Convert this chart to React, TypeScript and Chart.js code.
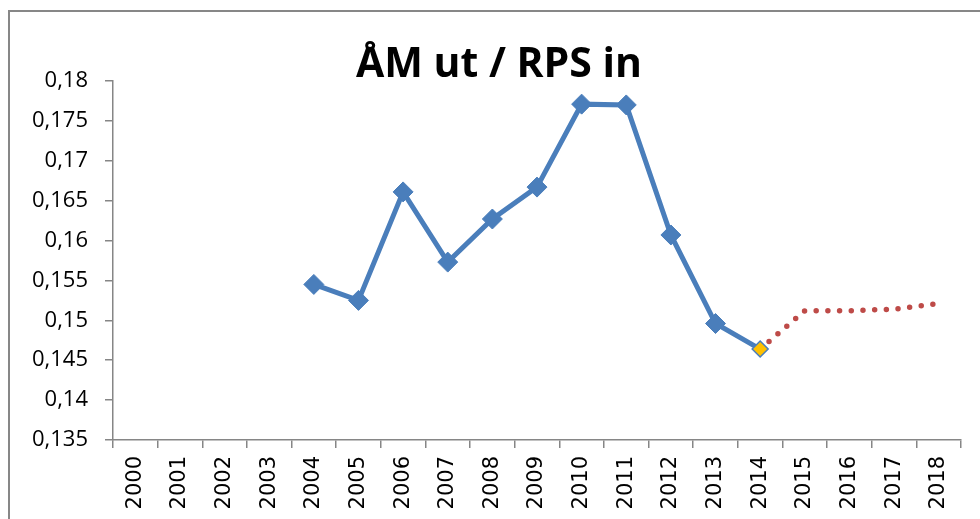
import React, { useEffect, useRef } from "react";
import { Chart, registerables } from "chart.js";

Chart.register(...registerables);

const TITLE = "ÅM ut / RPS in";
const YEARS = [
  "2000", "2001", "2002", "2003", "2004", "2005", "2006", "2007", "2008", "2009",
  "2010", "2011", "2012", "2013", "2014", "2015", "2016", "2017", "2018",
];
const ACTUAL = [
  null, null, null, null, 0.1545, 0.1525, 0.1661, 0.1573, 0.1627, 0.1667,
  0.1771, 0.1770, 0.1607, 0.1496, 0.1464, null, null, null, null,
];
const FORECAST = [
  null, null, null, null, null, null, null, null, null, null,
  null, null, null, null, 0.1464, 0.1512, 0.1512, 0.1514, 0.1521,
];
const Y_MIN = 0.135;
const Y_MAX = 0.18;
const Y_STEP = 0.005;

const BLUE = "#4A7EBB";
const RED = "#BE4B48";
const AXIS = "#868686";

const titlePlugin = {
  id: "customTitle",
  afterDraw(chart: any) {
    const ctx = chart.ctx;
    ctx.save();
    ctx.font = "bold 41px 'Open Sans'";
    ctx.fillStyle = "#000";
    ctx.textAlign = "center";
    ctx.textBaseline = "alphabetic";
    ctx.fillText(TITLE, 499, 77);
    ctx.restore();
  },
};

export default function App() {
  const ref = useRef<HTMLCanvasElement>(null);

  useEffect(() => {
    if (!ref.current) return;
    const lastActual = ACTUAL.reduce((acc: number, v, i) => (v !== null ? i : acc), -1);
    const chart = new Chart(ref.current, {
      type: "line",
      data: {
        labels: YEARS,
        datasets: [
          {
            label: "ÅM ut / RPS in",
            data: ACTUAL as any,
            borderColor: BLUE,
            borderWidth: 5,
            backgroundColor: ACTUAL.map((_, i) => (i === lastActual ? "#FFC000" : BLUE)),
            pointBorderColor: BLUE,
            pointBorderWidth: ACTUAL.map((_, i) => (i === lastActual ? 1.5 : 1)),
            pointStyle: "rectRot",
            pointRadius: ACTUAL.map((_, i) => (i === lastActual ? 8 : 10)),
            tension: 0,
          },
          {
            label: "Prognos",
            data: FORECAST as any,
            borderColor: RED,
            borderWidth: 5.5,
            borderDash: [0, 11.7],
            borderCapStyle: "round",
            pointRadius: 0,
            tension: 0,
          },
        ],
      },
      options: {
        animation: false,
        responsive: false,
        layout: { padding: { top: 81, right: 19, bottom: 0, left: 0 } },
        plugins: {
          legend: { display: false },
          title: { display: false },
          tooltip: { enabled: false },
        },
        scales: {
          x: {
            offset: true,
            grid: {
              offset: true,
              drawOnChartArea: false,
              drawTicks: true,
              tickLength: 8,
              color: AXIS,
              lineWidth: 1.5,
            },
            border: { display: true, color: AXIS, width: 1.5 },
            ticks: {
              minRotation: 90,
              maxRotation: 90,
              autoSkip: false,
              padding: 8,
              color: "#000",
              font: { family: "'DejaVu Sans'", size: 21 },
            },
            afterFit(scale: any) {
              scale.height = 79;
            },
          },
          y: {
            min: Y_MIN,
            max: Y_MAX,
            grid: {
              drawOnChartArea: false,
              drawTicks: true,
              tickLength: 8,
              color: AXIS,
              lineWidth: 1.5,
            },
            border: { display: true, color: AXIS, width: 1.5 },
            ticks: {
              stepSize: Y_STEP,
              padding: 17,
              color: "#000",
              font: { family: "'Open Sans'", size: 22 },
              callback: (v: any) => String(Number(Number(v).toFixed(3))).replace(".", ","),
            },
            afterFit(scale: any) {
              scale.width = 113;
            },
          },
        },
      },
      plugins: [titlePlugin],
    });
    return () => chart.destroy();
  }, []);

  return (
    <div>
      <div
        style={{
          position: "fixed",
          left: 8,
          top: 10,
          right: 0,
          bottom: 0,
          borderLeft: "2px solid #878787",
          borderTop: "2px solid #878787",
        }}
      />
      <canvas
        ref={ref}
        width={980}
        height={519}
        style={{ position: "fixed", left: 0, top: 0, width: 980, height: 519 }}
      />
    </div>
  );
}
